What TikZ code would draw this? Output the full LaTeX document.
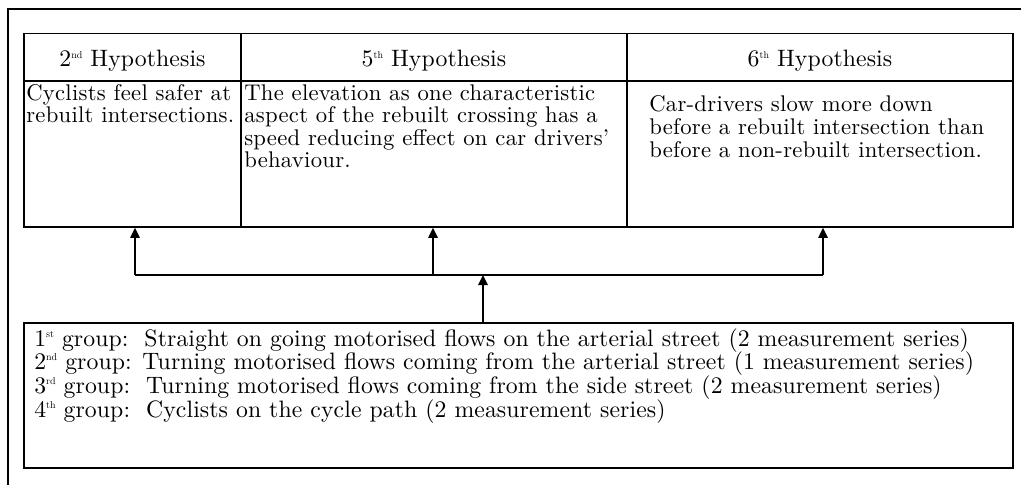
\documentclass[tikz,border=0pt]{standalone}
\usepackage{fontspec}
\usetikzlibrary{arrows.meta}
% lightly tracked serif faces for the cells and the group box
\newfontfamily\cellfam{lmroman10-regular.otf}[Ligatures=TeX, LetterSpace=1.2]
\newfontfamily\boxfam{lmroman10-regular.otf}[Ligatures=TeX, LetterSpace=0.4]
\newcommand{\cellfont}{\cellfam\fontsize{17}{17}\selectfont}
\newcommand{\boxfont}{\boxfam\fontsize{17.8}{17.8}\selectfont}
% small raised ordinal suffix
\newcommand{\ordsup}[1]{\raisebox{6.6pt}{\fontsize{7.5}{7.5}\selectfont #1}}
% left-aligned lines; the box's baseline is that of its first line
\newcommand{\stack}[2]{\vtop{\baselineskip=#1\lineskiplimit=-20pt\halign{##\hfil\cr#2\crcr}}}
\begin{document}
\begin{tikzpicture}[x=0.75pt,y=-0.75pt,
  frame/.style={line width=1.4pt},
  cell/.style={draw, line width=1.2pt, rectangle, inner sep=0pt},
  txt/.style={inner sep=0pt, anchor=base west, font=\cellfont},
  gtxt/.style={inner sep=0pt, anchor=base west, font=\boxfont},
  head/.style={inner sep=0pt, anchor=base, font=\boxfont},
  link/.style={line width=1.2pt},
  arr/.style={link, -{Triangle[length=7.5pt,width=7pt]}}]
\useasboundingbox (0,0) rectangle (1021,485);
% outer frame (left and top sides)
\draw[frame] (8,485) -- (8,9) -- (1021,9);

% table cells
\node[cell, minimum width=162.75pt, minimum height=35.6pt] (h1) at (132.5,57.25) {};
\node[cell, minimum width=289.5pt, minimum height=35.6pt] (h2) at (434,57.25) {};
\node[cell, minimum width=289.5pt, minimum height=35.6pt] (h3) at (820,57.25) {};
\node[cell, minimum width=162.75pt, minimum height=109.5pt] (b1) at (132.5,154) {};
\node[cell, minimum width=289.5pt, minimum height=109.5pt] (b2) at (434,154) {};
\node[cell, minimum width=289.5pt, minimum height=109.5pt] (b3) at (820,154) {};

% headers
\node[head] (t1) at (132.5,67) {2\ordsup{nd} Hypothesis};
\node[head] (t2) at (434,67) {5\ordsup{th} Hypothesis};
\node[head] (t3) at (820,67) {6\ordsup{th} Hypothesis};

% hypotheses
\node[txt] (x1) at (26,100) {\stack{16.9pt}{Cyclists feel safer at\cr rebuilt intersections.}};
\node[txt] (x2) at (244,100) {\stack{16.9pt}{The elevation as one characteristic\cr aspect of the rebuilt crossing has a\cr speed reducing effect on car drivers’\cr behaviour.}};
\node[txt] (x3) at (649,112) {\stack{16.9pt}{Car-drivers slow more down\cr before a rebuilt intersection than\cr before a non-rebuilt intersection.}};

% groups box
\node[cell, minimum width=741.75pt, minimum height=108.75pt] (g) at (518.5,395.5) {};
\node[gtxt] (gt) at (34,346) {\stack{17.8pt}{%
1\ordsup{st} group:\ \ Straight on going motorised flows on the arterial street (2 measurement series)\cr
2\ordsup{nd} group: Turning motorised flows coming from the arterial street (1 measurement series)\cr
3\ordsup{rd} group:\ \ Turning motorised flows coming from the side street (2 measurement series)\cr
4\ordsup{th} group:\ \ Cyclists on the cycle path (2 measurement series)}};

% connectors
\coordinate (j) at (483,275);
\coordinate (l) at (135,275);
\coordinate (m) at (433,275);
\coordinate (r) at (823,275);
\draw[arr] (j |- g.north) -- (j);
\draw[link] (l) -- (r);
\draw[arr] (l) -- (l |- b1.south);
\draw[arr] (m) -- (m |- b2.south);
\draw[arr] (r) -- (r |- b3.south);
\end{tikzpicture}
\end{document}
